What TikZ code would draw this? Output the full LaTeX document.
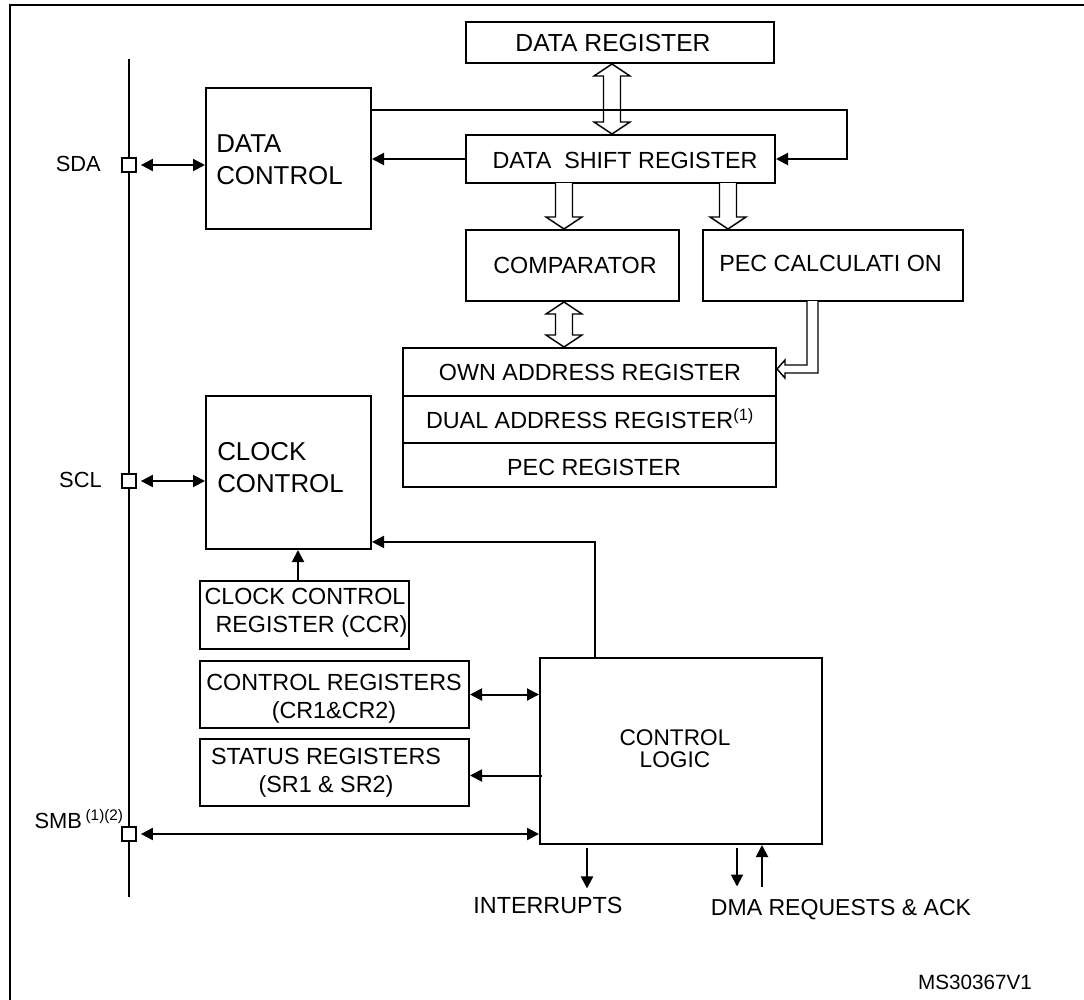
\documentclass[tikz,border=0pt]{standalone}
\usepackage{fontspec}
\setmainfont{Liberation Sans}
\usetikzlibrary{arrows.meta,fit,calc}
\newcommand{\dblhollow}[3]{\draw[hollow] (#1,#2) -- (#1+18,#2+12) -- (#1+8.5,#2+12) -- (#1+8.5,#3-12) -- (#1+18,#3-12) -- (#1,#3) -- (#1-18,#3-12) -- (#1-8.5,#3-12) -- (#1-8.5,#2+12) -- (#1-18,#2+12) -- cycle;}
\newcommand{\downhollow}[3]{\draw[hollow] (#1-8.5,#2) -- (#1-8.5,#3-12) -- (#1-18,#3-12) -- (#1,#3) -- (#1+18,#3-12) -- (#1+8.5,#3-12) -- (#1+8.5,#2);}
\begin{document}
\begin{tikzpicture}[x=0.75pt,y=-0.75pt,
  box/.style={draw, line width=1.5pt, inner sep=0pt},
  lbl/.style={inner sep=0pt, font=\fontsize{17.5}{21}\selectfont},
  conn/.style={line width=1.5pt},
  arr/.style={conn, -{Triangle[length=9pt,width=9pt]}},
  darr/.style={conn, {Triangle[length=9pt,width=9pt]}-{Triangle[length=9pt,width=9pt]}},
  hollow/.style={draw, fill=white, line width=1.1pt, line join=miter},
  pad/.style={draw, fill=white, line width=1.3pt, minimum size=10.5pt, inner sep=0pt}
]
\useasboundingbox (0,0) rectangle (1084,999);
\clip (0,0) rectangle (1084,999);
% frame
\draw[line width=2.2pt] (10,5) rectangle (1110,1030);
% bus
\coordinate (busTop) at (129,59);
\coordinate (busBot) at (129,897);
\draw[line width=2.2pt] (busTop) -- (busBot);
\node[pad] (sda) at (129,165) {};
\node[pad] (scl) at (129,481) {};
\node[pad] (smb) at (129,834) {};
\node[lbl, font=\fontsize{16.4}{20}\selectfont, anchor=east] (sdat) at (101,164) {SDA};
\node[lbl, font=\fontsize{16.4}{20}\selectfont, anchor=east] (sclt) at (102,480) {SCL};
\node[lbl, font=\fontsize{16.4}{20}\selectfont, anchor=east] (smbt) at (124,819) {SMB\,\textsuperscript{(1)(2)}};

% boxes
\node[box, fit={(466,22) (774,63)}] (dr) {};
\node[lbl, font=\fontsize{18.5}{22}\selectfont] (drt) at (613,43) {DATA REGISTER};
\node[box, fit={(466,135) (775,183)}] (dsr) {};
\node[lbl] (dsrt) at (625,160) {DATA\ \ SHIFT REGISTER};
\node[box, fit={(206,88) (371,229)}] (dc) {};
\node[lbl, font=\fontsize{19.4}{24}\selectfont, align=left, anchor=west] (dct) at (216,160) {DATA\\CONTROL};
\node[box, fit={(466,230) (679,301)}] (cmp) {};
\node[lbl] (cmpt) at (575,265) {COMPARATOR};
\node[box, fit={(703,230) (963,301)}] (pec) {};
\node[lbl, anchor=west] (pect) at (719,263) {PEC CALCULATI ON};
\node[box, fit={(403,348) (776,396)}] (own) {};
\node[lbl] (ownt) at (590,372) {OWN ADDRESS REGISTER};
\node[box, fit={(403,396) (776,443)}] (dual) {};
\node[lbl] (dualt) at (590,419) {DUAL ADDRESS REGISTER\textsuperscript{(1)}};
\node[box, fit={(403,443) (776,487)}] (pecr) {};
\node[lbl] (pecrt) at (594,467) {PEC REGISTER};
\node[box, fit={(206,396) (371,549)}] (cc) {};
\node[lbl, font=\fontsize{19.4}{24}\selectfont, align=left, anchor=west] (cct) at (217,468) {CLOCK\\CONTROL};
\node[box, fit={(200,581) (409,649)}] (ccr) {};
\node[lbl, align=center] (ccrt) at (305,613) {CLOCK CONTROL\\\ \ REGISTER (CCR)};
\node[box, fit={(200,661) (469,728)}] (cr) {};
\node[lbl, align=center] (crt) at (334,699) {CONTROL REGISTERS\\(CR1\&CR2)};
\node[box, fit={(200,739) (469,806)}] (sr) {};
\node[lbl, align=center] (srt) at (326,773) {STATUS REGISTERS\\(SR1 \& SR2)};
\node[box, fit={(540,658) (822,844)}] (cl) {};
\node[lbl, font=\fontsize{17}{16.5}\selectfont, align=center] (clt) at (675,749) {CONTROL\\LOGIC};
\node[lbl] (intr) at (548,905) {INTERRUPTS};
\node[lbl, font=\fontsize{17.3}{21}\selectfont] (dma) at (841,910) {DMA REQUESTS \& ACK};
\node[lbl, font=\fontsize{15.5}{19}\selectfont] (ms) at (975,982) {MS30367V1};

% hollow bus arrows
\dblhollow{612}{64}{134}
\downhollow{564}{183}{229}
\downhollow{728}{183}{229}
\dblhollow{564}{302}{347}
\draw[hollow] (807,301) -- (807,365) -- (785,365) -- (785,360) -- (777,369) -- (785,378) -- (785,373) -- (818,373) -- (818,301);

% connectors
\draw[darr, shorten <=3pt] (sda.east) -- (sda.east -| dc.west);
\draw[darr, shorten <=3pt] (scl.east) -- (scl.east -| cc.west);
\draw[darr, shorten <=3pt] (smb.east) -- (smb.east -| cl.west);
\draw[arr] (dsr.west) -- (dsr.west -| dc.east);
\draw[arr] ($(dc.north east)!0.163!(dc.south east)$) -| ($(dsr.east)+(71,0)$) -- (dsr.east);
\draw[arr] ($(cl.north)+(-86,0)$) |- ($(cc.north east)!0.948!(cc.south east)$);
\path ($(ccr.north)+(-6.5,0)$) coordinate (ccrtop);
\draw[arr] (ccrtop) -- (ccrtop |- cc.south);
\draw[darr] (cr.east) -- (cr.east -| cl.west);
\draw[arr] ($(sr.east -| cl.west)+(3,3)$) -- ($(sr.east)+(0,3)$);
\path ($(cl.south)+(-94,3)$) coordinate (introut);
\draw[arr] (introut) -- ($(introut |- intr.north)+(0,-8)$);
\path ($(cl.south)+(56,3)$) coordinate (dmaout);
\draw[arr] (dmaout) -- ($(dmaout |- dma.north)+(0,-13)$);
\path ($(cl.south)+(81,0)$) coordinate (dmain);
\draw[arr] ($(dmain |- dma.north)+(0,-13)$) -- (dmain);
\end{tikzpicture}
\end{document}
